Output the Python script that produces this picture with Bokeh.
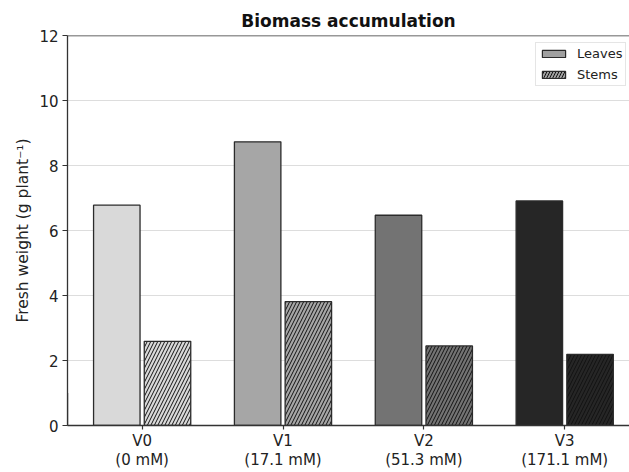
from bokeh.plotting import figure
from bokeh.models import FixedTicker, Span, Legend, LegendItem, ColumnDataSource
from bokeh.embed import file_html
from bokeh.resources import INLINE

categories = ["V0\n(0 mM)", "V1\n(17.1 mM)", "V2\n(51.3 mM)", "V3\n(171.1 mM)"]
leaves = [6.78, 8.73, 6.47, 6.91]
stems = [2.59, 3.81, 2.45, 2.19]
colors = ["#d9d9d9", "#a6a6a6", "#737373", "#262626"]
y_ticks = [0, 2, 4, 6, 8, 10, 12]

FONT = "DejaVu Sans"
x = list(range(len(categories)))
offset = 0.18
width = 0.33

p = figure(width=629, height=472, output_backend="svg", toolbar_location=None,
           x_range=(-0.53, 3.46), y_range=(0, 12),
           min_border_left=67, min_border_right=0, min_border_top=35, min_border_bottom=45)
p.outline_line_color = None
p.background_fill_color = "white"
p.border_fill_color = "white"

src_l = ColumnDataSource(dict(x=[i - offset for i in x], top=leaves, color=colors))
src_s = ColumnDataSource(dict(x=[i + offset for i in x], top=stems, color=colors))

p.vbar(x="x", top="top", width=width, source=src_l, fill_color="color",
       line_color="#2b2b2b", line_width=1.3)
p.vbar(x="x", top="top", width=width, source=src_s, fill_color="color",
       line_color="#2b2b2b", line_width=1.3, hatch_pattern="/", hatch_color="#111111",
       hatch_scale=7, hatch_weight=1)

# legend-only renderers placed outside the visible range
leg_l = p.vbar(x=[-50], top=[1], width=0.3, fill_color="#a0a0a0", line_color="#2b2b2b", line_width=1.2)
leg_s = p.vbar(x=[-50], top=[1], width=0.3, fill_color="#a0a0a0", line_color="#2b2b2b", line_width=1.2,
               hatch_pattern="/", hatch_color="#111111", hatch_scale=6, hatch_weight=1)

legend = Legend(items=[LegendItem(label="Leaves", renderers=[leg_l]),
                       LegendItem(label="Stems", renderers=[leg_s])],
                location=(468, 339))
legend.label_text_font = FONT
legend.label_text_font_size = "13px"
legend.label_text_color = "#222222"
legend.label_standoff = 9
legend.glyph_width = 29
legend.glyph_height = 9
legend.label_height = 14
legend.spacing = 6
legend.padding = 3
legend.margin = 0
legend.border_line_color = "#cccccc"
legend.border_line_width = 1
legend.background_fill_alpha = 0.9
p.add_layout(legend)

p.title.text = "Biomass accumulation"
p.title.align = "center"
p.title.text_font = FONT
p.title.text_font_size = "17px"
p.title.text_font_style = "bold"
p.title.text_color = "#111111"

p.xgrid.visible = False
p.ygrid.grid_line_color = "#dddddd"
p.ygrid.grid_line_width = 1.2
p.yaxis.ticker = FixedTicker(ticks=y_ticks)
p.xaxis.ticker = FixedTicker(ticks=x)
p.xaxis.major_label_overrides = {i: c for i, c in enumerate(categories)}

for ax in (p.xaxis, p.yaxis):
    ax.axis_line_color = "#333333"
    ax.axis_line_width = 1.3
    ax.major_tick_line_color = "#333333"
    ax.major_tick_line_width = 1.2
    ax.major_tick_out = 5
    ax.major_tick_in = 0
    ax.minor_tick_line_color = None
    ax.major_label_text_font = FONT
    ax.major_label_text_font_size = "15px"
    ax.major_label_text_color = "#222222"

p.xaxis.major_tick_out = 4
p.xaxis.major_label_standoff = 2
p.xaxis.major_label_text_line_height = 1.1
p.yaxis.major_label_standoff = 4

p.yaxis.axis_label = "Fresh weight (g plant⁻¹)"
p.yaxis.axis_label_text_font = FONT
p.yaxis.axis_label_text_font_size = "15.5px"
p.yaxis.axis_label_text_font_style = "normal"
p.yaxis.axis_label_text_color = "#222222"
p.yaxis.axis_label_standoff = 4

p.add_layout(Span(location=12, dimension="width", line_color="#333333", line_width=1.3))

open("out.html", "w").write(file_html(p, INLINE))
